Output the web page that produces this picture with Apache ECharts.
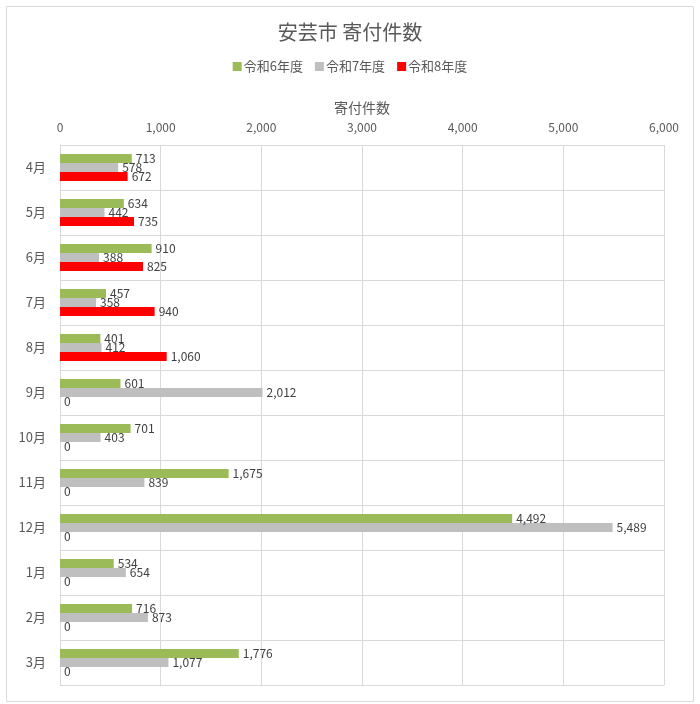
<!DOCTYPE html>
<html>
<head>
<meta charset="utf-8">
<script src="https://cdn.jsdelivr.net/npm/echarts@6/dist/echarts.min.js"></script>
<style>
  html, body { margin: 0; padding: 0; background: #fff; }
  #chart { width: 700px; height: 704px; }
</style>
</head>
<body>
<div id="chart"></div>
<script>
const months = ["4月", "5月", "6月", "7月", "8月", "9月", "10月", "11月", "12月", "1月", "2月", "3月"];
const r6 = [713, 634, 910, 457, 401, 601, 701, 1675, 4492, 534, 716, 1776];
const r7 = [578, 442, 388, 358, 412, 2012, 403, 839, 5489, 654, 873, 1077];
const r8 = [672, 735, 825, 940, 1060, 0, 0, 0, 0, 0, 0, 0];
const seriesNames = ["令和6年度", "令和7年度", "令和8年度"];
const colors = ["#9bbb59", "#bfbfbf", "#ff0000"];

const font = "'Noto Sans CJK JP', 'Noto Sans', sans-serif";
const chart = echarts.init(document.getElementById("chart"));

const makeSeries = (name, data, color) => ({
  name: name,
  type: "bar",
  data: data,
  barWidth: 9,
  barGap: "0%",
  itemStyle: { color: color },
  label: {
    show: true,
    position: "right",
    distance: 4,
    color: "#404040",
    fontSize: 12,
    fontFamily: font,
    formatter: p => p.value.toLocaleString("en-US")
  },
  animation: false
});

const option = {
  animation: false,
  color: colors,
  title: {
    text: "安芸市 寄付件数",
    left: "center",
    top: 17,
    textStyle: { fontSize: 20, fontWeight: "normal", color: "#595959", fontFamily: font }
  },
  legend: {
    top: 55,
    left: "center",
    itemWidth: 9,
    itemHeight: 9,
    itemGap: 12,
    icon: "rect",
    textStyle: { fontSize: 13, color: "#595959", fontFamily: font, padding: [0, 0, 0, -3] },
    data: seriesNames
  },
  graphic: [{
    type: "rect",
    shape: { x: 6.5, y: 6.5, width: 687, height: 695 },
    style: { fill: "none", stroke: "#d9d9d9", lineWidth: 1 },
    silent: true
  }],
  grid: { left: 60, right: 36, top: 145, bottom: 19 },
  xAxis: {
    type: "value",
    position: "top",
    min: 0,
    max: 6000,
    interval: 1000,
    name: "寄付件数",
    nameLocation: "middle",
    nameGap: 30,
    nameTextStyle: { fontSize: 14, color: "#595959", fontFamily: font },
    axisLine: { show: false },
    axisTick: { show: false },
    axisLabel: {
      color: "#595959",
      fontSize: 12,
      fontFamily: font,
      margin: 12,
      formatter: v => v.toLocaleString("en-US")
    },
    splitLine: { lineStyle: { color: "#d9d9d9", width: 1 } }
  },
  yAxis: {
    type: "category",
    data: months,
    inverse: true,
    axisLine: { show: true, lineStyle: { color: "#d9d9d9" } },
    axisTick: { show: false },
    axisLabel: { color: "#595959", fontSize: 13, fontFamily: font, margin: 14 },
    splitLine: { show: true, lineStyle: { color: "#d9d9d9", width: 1 } }
  },
  series: [
    makeSeries(seriesNames[0], r6, colors[0]),
    makeSeries(seriesNames[1], r7, colors[1]),
    makeSeries(seriesNames[2], r8, colors[2])
  ]
};
chart.setOption(option);
</script>
</body>
</html>
